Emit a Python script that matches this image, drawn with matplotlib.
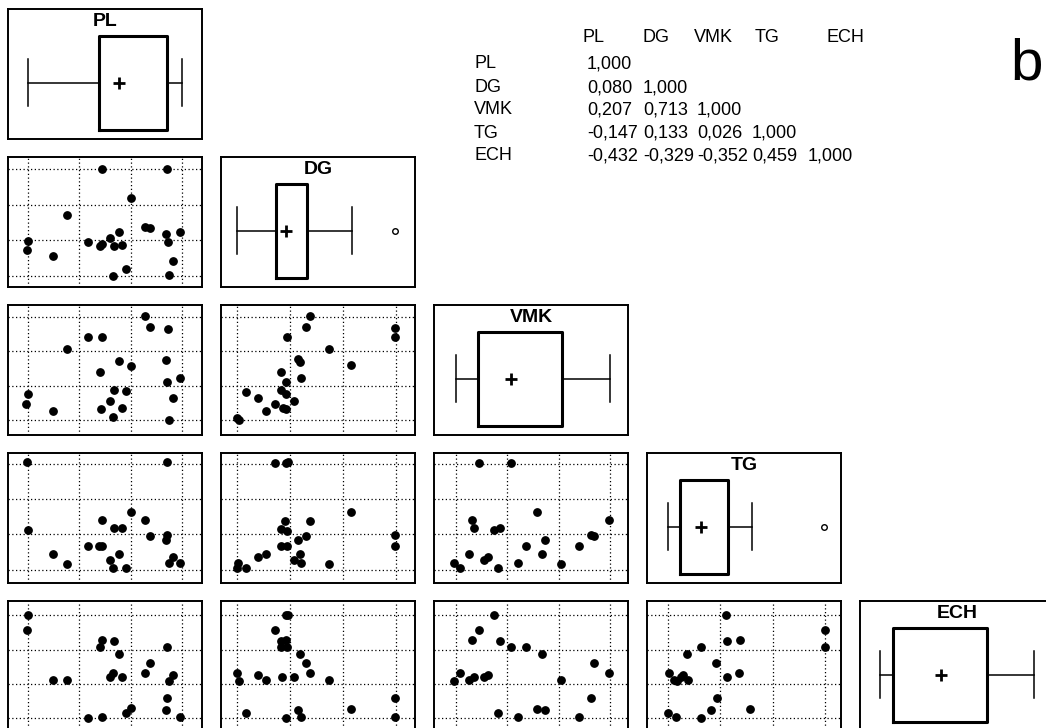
import matplotlib.pyplot as plt

plt.rcParams['font.family'] = ['Liberation Sans', 'DejaVu Sans']

variables = ['PL', 'DG', 'VMK', 'TG', 'ECH']

# lower triangle of the correlation matrix
corr = [
    [1.000],
    [0.080, 1.000],
    [0.207, 0.713, 1.000],
    [-0.147, 0.133, 0.026, 1.000],
    [-0.432, -0.329, -0.352, 0.459, 1.000],
]

# box summaries, in grid units of each variable
box_lo = [0.0, 0.0, 0.0, 0.0, 0.0]
box_q1 = [1.38, 0.72, 0.43, 0.23, 0.26]
box_q3 = [2.71, 1.31, 2.06, 1.15, 2.06]
box_hi = [3.0, 2.17, 3.0, 1.60, 2.97]
box_mean = [1.78, 0.91, 1.08, 0.64, 1.17]
box_out = [[], [2.98], [], [2.97], []]

# scatter pairs: x variable is the column, y variable is the row
pl_dg_x = [1.435, 2.707, 2.003, 0.750, 2.283, 2.368, 2.688, 2.968, 0.0, -0.02, 0.489, 1.174,
           1.402, 1.435, 1.598, 1.774, 1.683, 1.840, 1.911, 1.663, 2.740, 2.824, 2.720]
pl_dg_y = [3.0, 3.0, 2.184, 1.715, 1.368, 1.331, 1.181, 1.228, 0.965, 0.731, 0.562, 0.956,
           0.825, 0.900, 1.059, 1.218, 0.825, 0.872, 0.187, -0.019, 0.009, 0.412, 0.947]

pl_vmk_x = [2.283, 2.381, 2.720, 1.174, 1.435, 0.750, 1.774, 2.003, 1.402, 2.688, 2.968, 2.707,
            0.0, -0.033, 0.489, 1.683, 1.911, 1.598, 1.422, 1.826, 1.663, 2.824, 2.740]
pl_vmk_y = [3.03, 2.71, 2.66, 2.43, 2.43, 2.08, 1.72, 1.59, 1.40, 1.75, 1.24, 1.12,
            0.755, 0.484, 0.271, 0.881, 0.842, 0.561, 0.319, 0.368, 0.097, 0.639, 0.0]

dg_vmk_x = [1.368, 1.287, 0.929, 2.969, 2.969, 1.726, 1.149, 1.180, 2.134, 0.822, 1.199, 0.923,
            0.157, 0.822, 0.923, 0.383, 1.067, 0.709, 0.540, 0.854, 0.910, -0.013, 0.031]
dg_vmk_y = [3.03, 2.71, 2.43, 2.67, 2.43, 2.06, 1.77, 1.70, 1.60, 1.39, 1.24, 1.11,
            0.83, 0.88, 0.755, 0.639, 0.552, 0.474, 0.281, 0.368, 0.329, 0.077, 0.0]

pl_tg_x = [-0.02, 2.707, 2.003, 1.435, 2.283, 1.683, 1.833, 0.0, 2.381, 2.707, 2.688, 1.174,
           1.389, 1.435, 0.489, 1.774, 0.750, 1.598, 1.663, 1.911, 2.824, 2.740, 2.968]
pl_tg_y = [3.05, 3.05, 1.63, 1.40, 1.40, 1.17, 1.17, 1.13, 0.94, 0.98, 0.85, 0.66,
           0.66, 0.66, 0.43, 0.43, 0.15, 0.27, 0.04, 0.04, 0.36, 0.19, 0.19]

dg_tg_x = [0.709, 0.916, 0.948, 2.134, 1.368, 0.898, 0.822, 0.929, 1.287, 1.149, 0.822, 0.929,
           2.969, 2.969, 0.540, 0.383, 1.180, 1.067, 1.199, 1.726, 0.019, -0.013, 0.157]
dg_tg_y = [3.03, 3.03, 3.05, 1.63, 1.39, 1.39, 1.15, 1.11, 0.94, 0.84, 0.66, 0.66,
           0.97, 0.66, 0.43, 0.35, 0.43, 0.27, 0.19, 0.16, 0.19, 0.04, 0.04]

vmk_tg_x = [0.452, 1.077, 1.581, 0.323, 0.348, 0.742, 0.852, 2.968, 2.626, 2.690, 1.723,
            1.355, 2.381, 1.671, 0.258, 0.626, 0.542, -0.032, 0.090, 0.819, 1.213, 2.032]
vmk_tg_y = [3.03, 3.03, 1.63, 1.40, 1.17, 1.13, 1.17, 1.40, 0.98, 0.94, 0.84,
            0.66, 0.66, 0.43, 0.43, 0.35, 0.27, 0.19, 0.04, 0.04, 0.19, 0.15]

pl_ech_x = [0.0, -0.02, 1.435, 1.402, 1.683, 1.774, 2.707, 2.381, 2.283, 2.824, 2.740, 1.598,
            1.663, 1.826, 0.489, 0.750, 2.707, 2.688, 2.968, 2.003, 1.911, 1.174, 1.435]
pl_ech_y = [3.0, 2.56, 2.29, 2.09, 2.25, 1.88, 2.09, 1.60, 1.31, 1.27, 1.08, 1.19,
            1.31, 1.19, 1.11, 1.11, 0.59, 0.23, 0.04, 0.28, 0.16, -0.01, 0.04]

dg_ech_x = [0.916, 0.948, 0.709, 0.822, 0.910, 0.822, 0.929, 1.180, 1.287, 1.368, -0.013, 0.031,
            0.383, 0.540, 0.835, 1.067, 1.726, 2.969, 2.134, 2.969, 0.157, 1.149, 1.199, 0.916]
dg_ech_y = [3.0, 3.02, 2.56, 2.25, 2.29, 2.09, 2.09, 1.88, 1.60, 1.31, 1.31, 1.08,
            1.27, 1.11, 1.19, 1.19, 1.11, 0.59, 0.26, 0.04, 0.16, 0.23, 0.04, -0.01]

vmk_ech_x = [0.742, 0.452, 0.323, 0.852, 1.077, 1.355, 1.671, 2.690, 2.968, 0.090, -0.032,
             0.258, 0.348, 0.542, 0.626, 2.032, 2.626, 1.581, 1.723, 0.819, 1.213, 2.381]
vmk_ech_y = [3.0, 2.56, 2.29, 2.24, 2.09, 2.09, 1.88, 1.60, 1.31, 1.32, 1.08,
             1.11, 1.19, 1.19, 1.27, 1.11, 0.59, 0.26, 0.23, 0.16, 0.04, 0.02]

tg_ech_x = [1.122, 3.0, 3.0, 1.141, 1.376, 0.634, 0.380, 0.919, 0.032, 0.127, 0.178,
            0.254, 0.304, 0.393, 1.141, 1.351, 0.938, 0.824, 1.573, 0.0, 0.159, 0.634]
tg_ech_y = [3.0, 2.58, 2.09, 2.24, 2.29, 2.09, 1.88, 1.60, 1.32, 1.11, 1.08,
            1.19, 1.27, 1.11, 1.19, 1.32, 0.59, 0.23, 0.26, 0.16, 0.04, 0.0]

pairs = {
    (1, 0): (pl_dg_x, pl_dg_y),
    (2, 0): (pl_vmk_x, pl_vmk_y),
    (2, 1): (dg_vmk_x, dg_vmk_y),
    (3, 0): (pl_tg_x, pl_tg_y),
    (3, 1): (dg_tg_x, dg_tg_y),
    (3, 2): (vmk_tg_x, vmk_tg_y),
    (4, 0): (pl_ech_x, pl_ech_y),
    (4, 1): (dg_ech_x, dg_ech_y),
    (4, 2): (vmk_ech_x, vmk_ech_y),
    (4, 3): (tg_ech_x, tg_ech_y),
}

W, H = 1046, 728
fig = plt.figure(figsize=(W / 100, H / 100), dpi=100)

# panel edges in pixels
col_px = [(8, 202), (221, 415), (434, 628), (647, 841), (860, 1054)]
row_px = [(9, 139), (157, 287), (305, 435), (453, 583), (601, 731)]
col_xlim = [(-0.39, 3.39), (-0.31, 3.35), (-0.42, 3.34), (-0.39, 3.30), (-0.38, 3.35)]
row_ylim = [(-0.32, 3.34), (-0.32, 3.34), (-0.43, 3.35), (-0.38, 3.31), (-0.38, 3.42)]


def panel(r, c):
    x0, x1 = col_px[c]
    y0, y1 = row_px[r]
    ax = fig.add_axes([x0 / W, 1 - y1 / H, (x1 - x0) / W, (y1 - y0) / H])
    ax.set_xlim(col_xlim[c])
    for s in ax.spines.values():
        s.set_linewidth(1.4)
    ax.tick_params(length=0, labelbottom=False, labelleft=False)
    return ax


for r in range(5):
    for c in range(r + 1):
        ax = panel(r, c)
        if r == c:
            ax.set_ylim(0, 1)
            ax.set_xticks([])
            ax.set_yticks([])
            stats = [dict(whislo=box_lo[c], q1=box_q1[c], med=box_q1[c], q3=box_q3[c],
                          whishi=box_hi[c], mean=box_mean[c], fliers=box_out[c])]
            ax.bxp(stats, positions=[0.433], widths=0.72, capwidths=0.36,
                   orientation='horizontal', showmeans=True, manage_ticks=False,
                   boxprops=dict(color='black', linewidth=2.2),
                   whiskerprops=dict(color='black', linewidth=1.1),
                   capprops=dict(color='black', linewidth=1.1),
                   medianprops=dict(linewidth=0),
                   meanprops=dict(marker='+', markeredgecolor='black', markersize=9,
                                  markeredgewidth=2),
                   flierprops=dict(marker='o', markerfacecolor='white',
                                   markeredgecolor='black', markersize=4,
                                   markeredgewidth=1))
            ax.text(0.5, 0.9, variables[c], transform=ax.transAxes, ha='center',
                    va='center', fontsize=14, fontweight='bold')
        else:
            ax.set_ylim(row_ylim[r])
            ax.set_xticks([0, 1, 2, 3])
            ax.set_yticks([0, 1, 2, 3])
            ax.grid(True, color='black', linestyle=(0, (1, 2)), linewidth=0.9)
            x, y = pairs[(r, c)]
            ax.scatter(x, y, s=28, color='black', zorder=3)

# correlation table
head_x = [583, 643, 694, 755, 826]
cell_x = [587, 643, 697, 752, 808]
label_x = 474
head_y = 37
row_y = [64, 88, 110, 133, 156]
for j, name in enumerate(variables):
    fig.text(head_x[j] / W, 1 - head_y / H, name, ha='left', va='center', fontsize=13)
for i, name in enumerate(variables):
    fig.text(label_x / W, 1 - row_y[i] / H, name, ha='left', va='center', fontsize=13)
    for j, v in enumerate(corr[i]):
        txt = f'{v:.3f}'.replace('.', ',')
        fig.text(cell_x[j] / W, 1 - row_y[i] / H, txt, ha='left', va='center', fontsize=13)

fig.text(1010 / W, 1 - 80 / H, 'b', ha='left', va='baseline', fontsize=42)

fig.savefig('out.png', dpi=100)
